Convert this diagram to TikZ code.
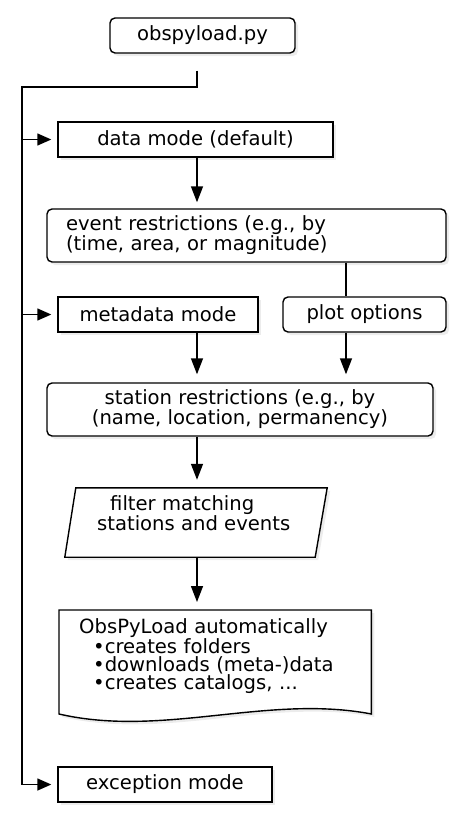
\documentclass[tikz,border=0pt]{standalone}
\usepackage{fontspec}
\setmainfont{DejaVu Sans}
\usetikzlibrary{arrows.meta,shadows,calc,backgrounds}
\begin{document}
\begin{tikzpicture}[x=1pt,y=-1pt,
  every node/.style={font=\fontsize{19.6}{18}\selectfont, inner sep=0pt},
  box/.style={draw, line width=1.4pt, fill=white, drop shadow={shadow xshift=3pt, shadow yshift=-3pt, opacity=.15}},
  rbox/.style={box, rounded corners=5pt},
  conn/.style={line width=1.4pt},
  arr/.style={conn, -{Triangle[length=16pt,width=12pt]}, shorten >=8pt},
  sarr/.style={conn, -{Triangle[length=14pt,width=12pt]}, shorten >=6pt}]
\useasboundingbox (0,0) rectangle (461,825);
\coordinate (mcol) at (197,0);
\coordinate (pcol) at (346,0);
\coordinate (rail) at (22,87);
\coordinate (split) at (197,87);
\coordinate (railend) at (22,784.5);

\node[rbox, minimum width=185pt, minimum height=35pt] (obspy) at (202.5,35.5) {obspyload.py};
\node[box, minimum width=275pt, minimum height=35pt] (data) at (195.5,139.5) {data mode (default)};
\node[rbox, minimum width=399pt, minimum height=53pt, text width=361pt, inner xsep=19pt, align=left] (event) at (246.5,235.5) {event restrictions (e.g., by\\(time, area, or magnitude)};
\node[box, minimum width=200pt, minimum height=35pt] (meta) at (158,314.5) {metadata mode};
\node[rbox, minimum width=163pt, minimum height=35pt] (plot) at (364.5,314.5) {plot options};
\node[rbox, minimum width=386pt, minimum height=53pt, align=center] (station) at (240,409.5) {station restrictions (e.g., by\\(name, location, permanency)};

% parallelogram
\node[minimum width=262pt, minimum height=69pt] (filter) at (196,522.5) {};
\path[box] ([xshift=11pt]filter.north west) -- (filter.north east) -- ([xshift=-12pt]filter.south east) -- (filter.south west) -- cycle;
\node[align=left, anchor=north west] (filtertext) at (97,495) {\hspace*{13pt}filter matching\\stations and events};

% document
\node[anchor=north west, text width=272pt, inner xsep=20pt, inner ysep=8pt, align=left] (doc) at (59,610) {ObsPyLoad automatically\\
\hspace*{14pt}•creates folders\\
\hspace*{14pt}•downloads (meta-)data\\
\hspace*{14pt}•creates catalogs, ...};
\begin{scope}[on background layer]
\path[box] (doc.north west) -- (doc.north east) -- ($(doc.north east)+(0,104)$)
  .. controls ($(doc.north east)+(-104,84)$) and ($(doc.north west)+(104,128)$) .. ($(doc.north west)+(0,104)$) -- cycle;
\end{scope}

\node[box, minimum width=214pt, minimum height=35pt] (exc) at (165,784.5) {exception mode};

% connectors
\draw[conn, shorten <=17pt] (obspy.south -| split) -- (split) -- (rail) -- (railend);
\draw[sarr] (railend) -- (exc.west);
\draw[sarr] (rail |- data.west) -- (data.west);
\draw[sarr] (rail |- meta.west) -- (meta.west);
\draw[arr, shorten >=6pt] (data.south -| mcol) -- (event.north -| mcol);
\draw[conn] (event.south -| pcol) -- (plot.north -| pcol);
\draw[arr] (meta.south -| mcol) -- (station.north -| mcol);
\draw[arr] (plot.south -| pcol) -- (station.north -| pcol);
\draw[arr] (station.south -| mcol) -- (filter.north -| mcol);
\draw[arr] (filter.south -| mcol) -- (doc.north -| mcol);
\end{tikzpicture}
\end{document}
